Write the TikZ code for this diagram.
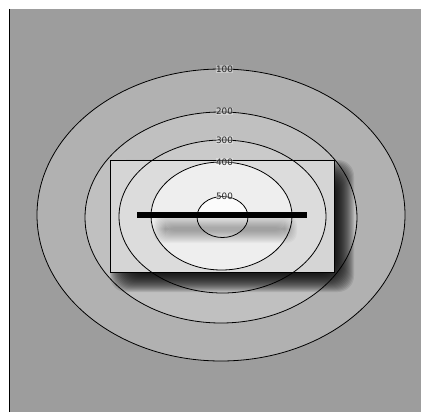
\documentclass[tikz,border=0pt]{standalone}
\usepackage{fontspec}
\setsansfont{DejaVu Sans}
\definecolor{bg}{HTML}{9D9D9D}
\definecolor{ringA}{HTML}{B1B1B1}
\definecolor{ringB}{HTML}{C0C0C0}
\definecolor{ringC}{HTML}{CACACA}
\definecolor{ringD}{HTML}{E5E5E5}
\definecolor{ringE}{HTML}{FAFAFA}
\tikzset{
  contour/.style={draw=black, line width=0.8pt},
  lvl/.style={font=\sffamily\fontsize{8.8}{9}\selectfont, text=black!85, fill=white, fill opacity=0.3, text opacity=1, inner sep=0.5pt},
}
\begin{document}
\begin{tikzpicture}[x=1pt,y=-1pt]
\useasboundingbox (0,0) rectangle (421,412);
\fill[white] (0,0) rectangle (421,412);
\fill[bg] (9.5,9) rectangle (421,412);
\draw[line width=1.2pt] (9.5,9) -- (9.5,412);
% ellipse fills
\fill[ringA] (221,215) ellipse [x radius=184, y radius=146];
\fill[ringB] (221,217.5) ellipse [x radius=136, y radius=105.5];
\fill[ringC] (222.5,216.5) ellipse [x radius=103.5, y radius=76.5];
\fill[ringD] (221.5,216) ellipse [x radius=70.5, y radius=54];
\fill[ringE] (222.5,217) ellipse [x radius=25.5, y radius=20.5];
% rect shadow, clipped outside the rectangle
\begin{scope}
\clip (0,0) -- (421,0) -- (421,412) -- (0,412) -- cycle
      (110.3,160) -- (110.3,272) -- (334,272) -- (334,160) -- cycle;
\foreach \d in {16,15,...,-6}{
  \fill[black, opacity=0.09, rounded corners=16pt] (126-\d,176-\d) rectangle (338+\d,276+\d);
}
\end{scope}
\fill[white, opacity=0.35] (110.3,160) rectangle (334,272);
% bar shadow
\begin{scope}
\clip (110.3,160) rectangle (334,272);
\foreach \d in {12,11,...,0}{
  \fill[black, opacity=0.028, rounded corners=10pt] (165-\d,227-\d) rectangle (285+\d,231+\d);
}
\end{scope}
% contours
\draw[contour] (221,215) ellipse [x radius=184, y radius=146];
\draw[contour] (221,217.5) ellipse [x radius=136, y radius=105.5];
\draw[contour] (222.5,216.5) ellipse [x radius=103.5, y radius=76.5];
\draw[contour] (221.5,216) ellipse [x radius=70.5, y radius=54];
\draw[contour] (222.5,217) ellipse [x radius=25.5, y radius=20.5];
\draw[line width=0.8pt] (110.3,160) rectangle (334,272);
% bar
\fill[black] (137,212.2) rectangle (307,218.2);
% labels
\node[lvl] (l100) at (224.5,69) {100};
\node[lvl] (l200) at (224.5,111.5) {200};
\node[lvl] (l300) at (224.5,140) {300};
\node[lvl] (l400) at (224.5,162) {400};
\node[lvl] (l500) at (224.5,196.5) {500};
\end{tikzpicture}
\end{document}
